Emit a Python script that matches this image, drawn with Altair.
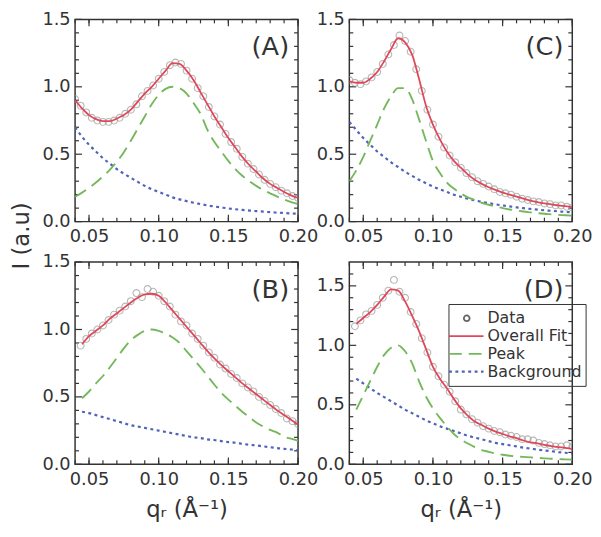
import altair as alt
import pandas as pd

# ---------------- data ----------------
Q_CURVE_FULL = [0.040, 0.045, 0.050, 0.055, 0.060, 0.065, 0.070, 0.075, 0.080, 0.085,
                0.090, 0.095, 0.100, 0.105, 0.110, 0.115, 0.120, 0.125, 0.130, 0.135,
                0.140, 0.145, 0.150, 0.155, 0.160, 0.165, 0.170, 0.175, 0.180, 0.185,
                0.190, 0.195, 0.200]
Q_CURVE_LATE = [0.045, 0.050, 0.055, 0.060, 0.065, 0.070, 0.075, 0.080, 0.085,
                0.090, 0.095, 0.100, 0.105, 0.110, 0.115, 0.120, 0.125, 0.130, 0.135,
                0.140, 0.145, 0.150, 0.155, 0.160, 0.165, 0.170, 0.175, 0.180, 0.185,
                0.190, 0.195, 0.200]
Q_DATA_FULL = [0.040, 0.044, 0.048, 0.052, 0.056, 0.060, 0.064, 0.068, 0.072, 0.076,
               0.080, 0.084, 0.088, 0.092, 0.096, 0.100, 0.104, 0.108, 0.112, 0.116,
               0.120, 0.124, 0.128, 0.132, 0.136, 0.140, 0.144, 0.148, 0.152, 0.156,
               0.160, 0.164, 0.168, 0.172, 0.176, 0.180, 0.184, 0.188, 0.192, 0.196,
               0.200]
Q_DATA_LATE = [0.044, 0.048, 0.052, 0.056, 0.060, 0.064, 0.068, 0.072, 0.076,
               0.080, 0.084, 0.088, 0.092, 0.096, 0.100, 0.104, 0.108, 0.112, 0.116,
               0.120, 0.124, 0.128, 0.132, 0.136, 0.140, 0.144, 0.148, 0.152, 0.156,
               0.160, 0.164, 0.168, 0.172, 0.176, 0.180, 0.184, 0.188, 0.192, 0.196,
               0.200]

A_FIT = [0.90, 0.84, 0.79, 0.76, 0.745, 0.745, 0.765, 0.79, 0.83, 0.89,
         0.95, 1.00, 1.06, 1.12, 1.175, 1.17, 1.12, 1.05, 0.96, 0.87,
         0.78, 0.70, 0.62, 0.55, 0.48, 0.42, 0.37, 0.32, 0.28, 0.25,
         0.22, 0.195, 0.175]
A_PEAK = [0.185, 0.215, 0.25, 0.29, 0.335, 0.385, 0.445, 0.515, 0.60, 0.69,
          0.78, 0.87, 0.94, 0.985, 1.00, 0.99, 0.95, 0.88, 0.80, 0.68,
          0.59, 0.52, 0.45, 0.39, 0.34, 0.30, 0.265, 0.235, 0.21, 0.185,
          0.165, 0.145, 0.13]
A_BG = [0.70, 0.63, 0.57, 0.52, 0.47, 0.43, 0.39, 0.355, 0.325, 0.295,
        0.265, 0.24, 0.22, 0.20, 0.18, 0.165, 0.152, 0.14, 0.13, 0.12,
        0.112, 0.105, 0.098, 0.092, 0.087, 0.082, 0.078, 0.074, 0.07, 0.067,
        0.064, 0.061, 0.058]
A_DATA = [0.91, 0.86, 0.81, 0.77, 0.75, 0.74, 0.74, 0.75, 0.77, 0.80,
          0.83, 0.87, 0.93, 0.97, 1.01, 1.06, 1.11, 1.16, 1.18, 1.17,
          1.12, 1.06, 0.99, 0.93, 0.85, 0.78, 0.72, 0.65, 0.59, 0.54,
          0.48, 0.43, 0.39, 0.35, 0.31, 0.28, 0.255, 0.23, 0.21, 0.19,
          0.175]

C_FIT = [1.04, 1.03, 1.03, 1.06, 1.11, 1.19, 1.28, 1.36, 1.33, 1.24,
         1.06, 0.86, 0.72, 0.61, 0.52, 0.45, 0.40, 0.35, 0.31, 0.28,
         0.255, 0.235, 0.215, 0.20, 0.185, 0.17, 0.155, 0.145, 0.135, 0.128,
         0.12, 0.115, 0.108]
C_PEAK = [0.30, 0.38, 0.48, 0.60, 0.72, 0.84, 0.93, 0.99, 0.99, 0.91,
          0.76, 0.60, 0.45, 0.36, 0.29, 0.245, 0.21, 0.18, 0.16, 0.14,
          0.125, 0.112, 0.10, 0.09, 0.082, 0.075, 0.069, 0.063, 0.058, 0.054,
          0.05, 0.047, 0.044]
C_BG = [0.74, 0.68, 0.62, 0.57, 0.52, 0.48, 0.44, 0.405, 0.37, 0.34,
        0.31, 0.285, 0.26, 0.24, 0.22, 0.20, 0.185, 0.17, 0.158, 0.147,
        0.137, 0.128, 0.12, 0.113, 0.106, 0.10, 0.094, 0.089, 0.084, 0.08,
        0.076, 0.072, 0.069]
C_DATA = [1.05, 1.03, 1.02, 1.04, 1.07, 1.11, 1.17, 1.24, 1.31, 1.38,
          1.34, 1.26, 1.13, 0.97, 0.83, 0.72, 0.63, 0.55, 0.49, 0.44,
          0.40, 0.36, 0.33, 0.30, 0.28, 0.26, 0.24, 0.22, 0.21, 0.20,
          0.185, 0.17, 0.16, 0.15, 0.145, 0.135, 0.13, 0.12, 0.12, 0.11,
          0.105]

B_FIT = [0.89, 0.95, 0.99, 1.03, 1.08, 1.12, 1.16, 1.20, 1.235, 1.26,
         1.265, 1.25, 1.20, 1.14, 1.08, 1.02, 0.96, 0.90, 0.84, 0.785,
         0.735, 0.69, 0.645, 0.60, 0.56, 0.52, 0.48, 0.44, 0.40, 0.365,
         0.33, 0.295]
B_PEAK = [0.49, 0.54, 0.60, 0.655, 0.72, 0.79, 0.86, 0.92, 0.96, 0.99,
          1.00, 0.99, 0.97, 0.94, 0.90, 0.84, 0.78, 0.72, 0.655, 0.59,
          0.53, 0.48, 0.435, 0.39, 0.35, 0.31, 0.28, 0.255, 0.235, 0.205,
          0.19, 0.175]
B_BG = [0.39, 0.38, 0.365, 0.35, 0.335, 0.32, 0.305, 0.29, 0.28, 0.27,
        0.26, 0.25, 0.24, 0.23, 0.22, 0.21, 0.20, 0.195, 0.185, 0.18,
        0.172, 0.165, 0.16, 0.152, 0.145, 0.14, 0.133, 0.127, 0.12, 0.115,
        0.11, 0.105]
B_DATA = [0.88, 0.93, 0.97, 1.00, 1.03, 1.07, 1.11, 1.14, 1.17,
          1.21, 1.27, 1.24, 1.30, 1.28, 1.25, 1.21, 1.17, 1.11, 1.06,
          1.03, 0.97, 0.93, 0.88, 0.83, 0.79, 0.74, 0.71, 0.67, 0.64,
          0.60, 0.57, 0.54, 0.50, 0.47, 0.44, 0.41, 0.38, 0.34, 0.32,
          0.30]

D_FIT = [1.18, 1.23, 1.28, 1.34, 1.41, 1.47, 1.46, 1.37, 1.25, 1.12,
         0.97, 0.82, 0.72, 0.64, 0.55, 0.47, 0.41, 0.36, 0.33, 0.30,
         0.275, 0.255, 0.235, 0.22, 0.20, 0.185, 0.175, 0.163, 0.153, 0.145,
         0.138, 0.13]
D_PEAK = [0.46, 0.58, 0.70, 0.82, 0.92, 0.98, 1.00, 0.95, 0.85, 0.70,
          0.57, 0.47, 0.39, 0.32, 0.255, 0.21, 0.175, 0.145, 0.12, 0.105,
          0.09, 0.08, 0.072, 0.066, 0.062, 0.058, 0.054, 0.05, 0.047, 0.044,
          0.041, 0.039]
D_BG = [0.72, 0.68, 0.64, 0.60, 0.565, 0.53, 0.495, 0.46, 0.43, 0.40,
        0.37, 0.345, 0.32, 0.30, 0.28, 0.26, 0.24, 0.225, 0.21, 0.195,
        0.18, 0.17, 0.16, 0.15, 0.14, 0.132, 0.124, 0.116, 0.11, 0.103,
        0.097, 0.09]
D_DATA = [1.16, 1.21, 1.26, 1.29, 1.34, 1.40, 1.46, 1.55, 1.45,
          1.40, 1.28, 1.18, 1.06, 0.94, 0.82, 0.74, 0.67, 0.61, 0.53,
          0.46, 0.42, 0.38, 0.35, 0.32, 0.30, 0.28, 0.27, 0.25, 0.24,
          0.23, 0.21, 0.21, 0.20, 0.18, 0.17, 0.16, 0.15, 0.15, 0.16,
          0.15]

X_MAJOR = [0.05, 0.10, 0.15, 0.20]
X_MINOR = [0.04, 0.05, 0.06, 0.07, 0.08, 0.09, 0.10, 0.11, 0.12, 0.13,
           0.14, 0.15, 0.16, 0.17, 0.18, 0.19, 0.20]
Y_MAJOR = [0.0, 0.5, 1.0, 1.5]
Y_MINOR_15 = [0.1, 0.2, 0.3, 0.4, 0.6, 0.7, 0.8, 0.9, 1.1, 1.2, 1.3, 1.4]
Y_MINOR_17 = [0.1, 0.2, 0.3, 0.4, 0.6, 0.7, 0.8, 0.9, 1.1, 1.2, 1.3, 1.4, 1.6]

LEGEND_LABELS = ["Data", "Overall Fit", "Peak", "Background"]
X_TITLE = "qᵣ (Å⁻¹)"
Y_TITLE = "I (a.u)"

# ---------------- style ----------------
W, H = 226, 205
FONT = "DejaVu Sans"
INK = "#333333"
RED = "#e0485a"
GREEN = "#74b85c"
BLUE = "#4f63b8"
GREY = "#9a9a9a"


def panel(letter, qc, fit, peak, bg, qd, data, ymax, y_minor, xtitle, ytitle, legend=False):
    xs = alt.Scale(domain=[0.04, 0.20], nice=False, zero=False)
    ys = alt.Scale(domain=[0, ymax], nice=False, zero=True)
    xaxis = alt.Axis(values=X_MAJOR, format=".2f", ticks=False, domain=False, grid=False,
                     labelFont=FONT, labelFontSize=18, labelColor=INK, labelPadding=6,
                     labelFlush=False, labelOverlap=False,
                     title=xtitle, titleFont=FONT, titleFontSize=23, titleFontWeight="normal",
                     titleColor=INK, titlePadding=11)
    ykw = dict(values=Y_MAJOR, format=".1f", ticks=False, domain=False, grid=False,
               labelFont=FONT, labelFontSize=18, labelColor=INK, labelPadding=5,
               labelFlush=False, labelOverlap=False,
               title=ytitle, titleFont=FONT, titleFontSize=23, titleFontWeight="normal",
               titleColor=INK)
    if ytitle:
        ykw.update(titleX=-42, titleY=H + 14, titleAngle=270, titleBaseline="bottom",
                   titleAlign="center")
    yaxis = alt.Axis(**ykw)
    X = alt.X("q:Q", scale=xs, axis=xaxis)
    Y = alt.Y("I:Q", scale=ys, axis=yaxis)

    layers = []
    # inward ticks on all four sides
    for vals, ln in ((X_MAJOR, 7), (X_MINOR, 4)):
        tdf = pd.DataFrame({"q": vals})
        layers.append(alt.Chart(tdf).mark_rule(color=INK, strokeWidth=1.2).encode(
            x=X, y=alt.value(H), y2=alt.value(H - ln)))
        layers.append(alt.Chart(tdf).mark_rule(color=INK, strokeWidth=1.2).encode(
            x=X, y=alt.value(0), y2=alt.value(ln)))
    for vals, ln in ((Y_MAJOR, 7), (y_minor, 4)):
        tdf = pd.DataFrame({"I": vals})
        layers.append(alt.Chart(tdf).mark_rule(color=INK, strokeWidth=1.2).encode(
            y=Y, x=alt.value(0), x2=alt.value(ln)))
        layers.append(alt.Chart(tdf).mark_rule(color=INK, strokeWidth=1.2).encode(
            y=Y, x=alt.value(W), x2=alt.value(W - ln)))

    layers.append(alt.Chart(pd.DataFrame({"q": qd, "I": data})).mark_point(
        shape="circle", filled=False, size=48, strokeWidth=1.1, color=GREY, clip=True
    ).encode(x=X, y=Y))
    layers.append(alt.Chart(pd.DataFrame({"q": qc, "I": bg})).mark_line(
        color=BLUE, strokeDash=[3, 3.5], strokeWidth=2.2, interpolate="monotone", clip=True
    ).encode(x=X, y=Y))
    layers.append(alt.Chart(pd.DataFrame({"q": qc, "I": peak})).mark_line(
        color=GREEN, strokeDash=[13, 7], strokeWidth=1.9, interpolate="monotone", clip=True
    ).encode(x=X, y=Y))
    layers.append(alt.Chart(pd.DataFrame({"q": qc, "I": fit})).mark_line(
        color=RED, strokeWidth=1.8, interpolate="monotone", clip=True
    ).encode(x=X, y=Y))
    layers.append(alt.Chart(pd.DataFrame({"t": [letter]})).mark_text(
        align="right", baseline="middle", font=FONT, fontSize=26, color=INK
    ).encode(text="t:N", x=alt.value(W - 9), y=alt.value(28)))

    if legend:
        one = pd.DataFrame({"k": [0]})
        layers.append(alt.Chart(one).mark_rect(fill="white", fillOpacity=0, stroke=INK,
                                               strokeWidth=1).encode(
            x=alt.value(101), x2=alt.value(240), y=alt.value(43), y2=alt.value(126)))
        layers.append(alt.Chart(one).mark_point(shape="circle", filled=False, size=34,
                                                strokeWidth=1.8, color="#222222").encode(
            x=alt.value(119), y=alt.value(57)))
        layers.append(alt.Chart(one).mark_rule(color=RED, strokeWidth=1.8).encode(
            x=alt.value(101), x2=alt.value(136), y=alt.value(75)))
        layers.append(alt.Chart(one).mark_rule(color=GREEN, strokeWidth=1.9,
                                               strokeDash=[13, 7]).encode(
            x=alt.value(101), x2=alt.value(136), y=alt.value(93)))
        layers.append(alt.Chart(one).mark_rule(color=BLUE, strokeWidth=2.2,
                                               strokeDash=[3, 3.5]).encode(
            x=alt.value(101), x2=alt.value(136), y=alt.value(111)))
        for i, lab in enumerate(LEGEND_LABELS):
            layers.append(alt.Chart(pd.DataFrame({"t": [lab]})).mark_text(
                align="left", baseline="middle", font=FONT, fontSize=16, color=INK
            ).encode(text="t:N", x=alt.value(140), y=alt.value(57 + 18 * i)))

    return alt.layer(*layers).properties(width=W, height=H)


pA = panel("(A)", Q_CURVE_FULL, A_FIT, A_PEAK, A_BG, Q_DATA_FULL, A_DATA, 1.5, Y_MINOR_15, "", Y_TITLE)
pC = panel("(C)", Q_CURVE_FULL, C_FIT, C_PEAK, C_BG, Q_DATA_FULL, C_DATA, 1.5, Y_MINOR_15, "", "")
pB = panel("(B)", Q_CURVE_LATE, B_FIT, B_PEAK, B_BG, Q_DATA_LATE, B_DATA, 1.5, Y_MINOR_15, X_TITLE, "")
pD = panel("(D)", Q_CURVE_LATE, D_FIT, D_PEAK, D_BG, Q_DATA_LATE, D_DATA, 1.7, Y_MINOR_17, X_TITLE, "",
           legend=True)

chart = alt.concat(pA, pC, pB, pD, columns=2, spacing={"row": 41, "column": 52},
                   bounds="flush").properties(
    padding={"left": 2, "top": -2, "right": 0, "bottom": 0},
    background="white",
).configure_view(stroke=INK, strokeWidth=1.5)

chart.save("out.html", embed_options={"renderer": "svg", "actions": False})
